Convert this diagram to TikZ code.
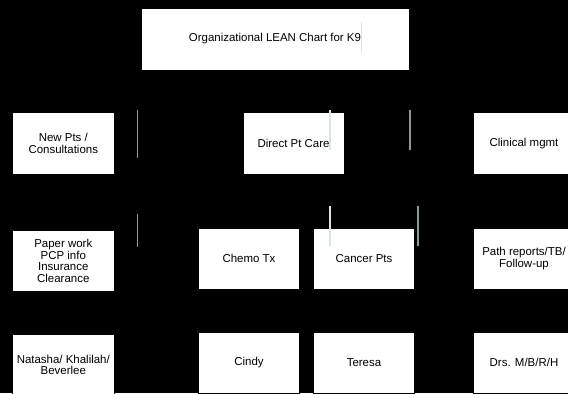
\documentclass[tikz,border=0pt]{standalone}
\usepackage{fontspec}
\setmainfont{Liberation Sans}
\definecolor{paleline}{RGB}{214,230,234}
\definecolor{greyline}{RGB}{140,154,154}
\tikzset{
  leanbox/.style={draw=black, fill=white, line width=0.4pt, align=center,
    minimum width=76.1pt, minimum height=46.1pt, inner sep=1pt,
    font=\fontsize{8.6}{8.6}\selectfont},
  link/.style={draw=black, line width=0.75pt},
  paletick/.style={draw=paleline, line width=1.1pt},
  greytick/.style={draw=greyline, line width=1.1pt}
}
\begin{document}
\begin{tikzpicture}[x=0.75pt,y=0.75pt,yscale=-1,xscale=1]
% background and frame
\fill[black] (0,0) rectangle (568,393);
\useasboundingbox (0,0) rectangle (568,393);
\clip (0,0) rectangle (568,393);

% Title
\node[leanbox, minimum width=201pt, minimum height=46.5pt] (chart) at (275,39) {Organizational LEAN Chart for K9};

% Second row
\node[leanbox] (newpts) at (63.3,143.3) {New Pts /\\Consultations};
\node[leanbox] (directcare) at (293.5,143.3) {Direct Pt Care};
\node[leanbox] (clinical) at (524,143.3) {Clinical mgmt};

% Third row
\node[leanbox] (paperwork) at (63.3,261) {Paper work\\PCP info\\Insurance\\Clearance};
\node[leanbox] (chemo) at (249,258.5) {Chemo Tx};
\node[leanbox] (cancer) at (364,258.5) {Cancer Pts};
\node[leanbox] (pathrep) at (524,258.5) {Path reports/TB/\\Follow-up};

% Staff row
\node[leanbox] (natasha) at (63.3,365) {Natasha/ Khalilah/\\Beverlee};
\node[leanbox] (cindy) at (249,362.5) {Cindy};
\node[leanbox] (teresa) at (364,362.5) {Teresa};
\node[leanbox] (drs) at (524,362.5) {Drs. M/B/R/H};

% Connections (black on black)
\draw[link] (chart.south) -- ++(0,20) -| (newpts.north);
\draw[link] (chart.south) -- ++(0,20) -| (directcare.north);
\draw[link] (chart.south) -- ++(0,20) -| (clinical.north);
\draw[link] (newpts) -- (paperwork);
\draw[link] (directcare.south) -- ++(0,25) -| (chemo.north);
\draw[link] (directcare.south) -- ++(0,25) -| (cancer.north);
\draw[link] (clinical) -- (pathrep);
\draw[link] (paperwork) -- (natasha);
\draw[link] (chemo.south) -- (cindy.north -| chemo.south);
\draw[link] (cancer.south) -- (teresa.north -| cancer.south);
\draw[link] (pathrep) -- (drs);

% Grey marks
\draw[paletick] (361.7,22) -- (361.7,53);
\draw[paletick] (330,110) -- (330,150);
\draw[paletick] (330,206) -- (330,246);
\draw[greytick] (137.7,110) -- (137.7,158);
\draw[greytick] (137.7,214) -- (137.7,247);
\draw[greytick] (410,110) -- (410,150);
\draw[greytick] (418,206) -- (418,246);

\end{tikzpicture}
\end{document}
